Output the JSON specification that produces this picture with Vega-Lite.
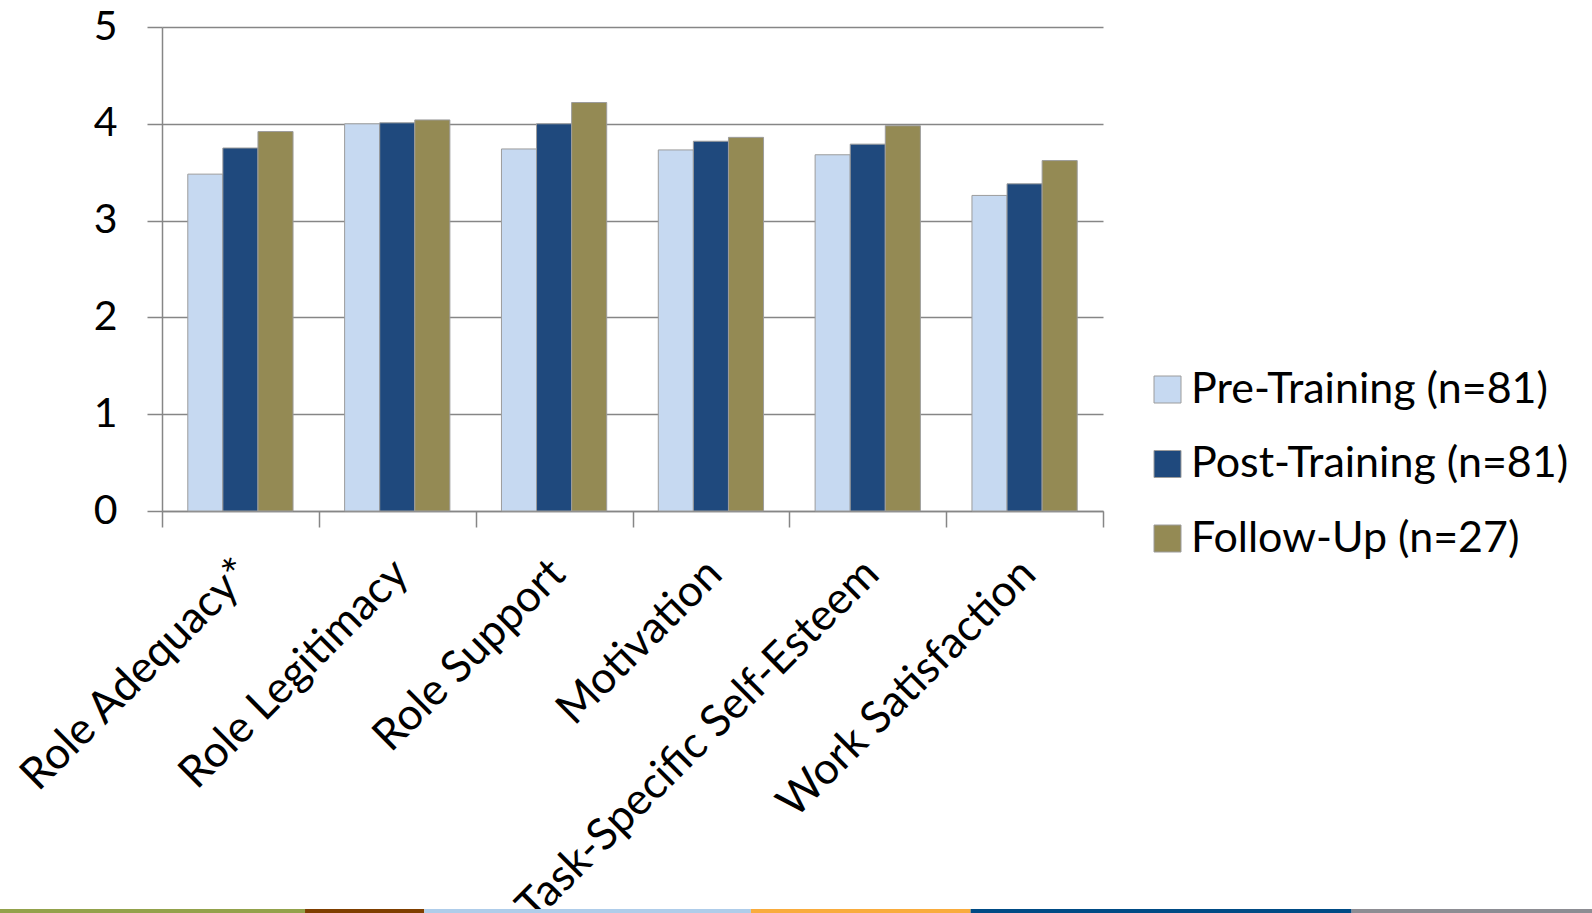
{
  "$schema": "https://vega.github.io/schema/vega-lite/v6.json",
  "width": 941,
  "height": 484,
  "autosize": {"type": "none"},
  "padding": {"left": 162, "top": 27, "right": 489, "bottom": 402},
  "background": "white",
  "config": {"view": {"stroke": null}, "font": "Lato"},
  "layer": [
    {
      "data": {
        "values": [
          {"scale": "Role Adequacy*", "phase": "Pre-Training (n=81)", "mean": 3.48},
          {"scale": "Role Adequacy*", "phase": "Post-Training (n=81)", "mean": 3.75},
          {"scale": "Role Adequacy*", "phase": "Follow-Up (n=27)", "mean": 3.92},
          {"scale": "Role Legitimacy", "phase": "Pre-Training (n=81)", "mean": 4.0},
          {"scale": "Role Legitimacy", "phase": "Post-Training (n=81)", "mean": 4.01},
          {"scale": "Role Legitimacy", "phase": "Follow-Up (n=27)", "mean": 4.04},
          {"scale": "Role Support", "phase": "Pre-Training (n=81)", "mean": 3.74},
          {"scale": "Role Support", "phase": "Post-Training (n=81)", "mean": 4.0},
          {"scale": "Role Support", "phase": "Follow-Up (n=27)", "mean": 4.22},
          {"scale": "Motivation", "phase": "Pre-Training (n=81)", "mean": 3.73},
          {"scale": "Motivation", "phase": "Post-Training (n=81)", "mean": 3.82},
          {"scale": "Motivation", "phase": "Follow-Up (n=27)", "mean": 3.86},
          {"scale": "Task-Specific Self-Esteem", "phase": "Pre-Training (n=81)", "mean": 3.68},
          {"scale": "Task-Specific Self-Esteem", "phase": "Post-Training (n=81)", "mean": 3.79},
          {"scale": "Task-Specific Self-Esteem", "phase": "Follow-Up (n=27)", "mean": 3.98},
          {"scale": "Work Satisfaction", "phase": "Pre-Training (n=81)", "mean": 3.26},
          {"scale": "Work Satisfaction", "phase": "Post-Training (n=81)", "mean": 3.38},
          {"scale": "Work Satisfaction", "phase": "Follow-Up (n=27)", "mean": 3.62}
        ]
      },
      "mark": {"type": "bar", "stroke": "#9c9c9c", "strokeWidth": 1},
      "encoding": {
        "x": {
          "field": "scale",
          "type": "nominal",
          "sort": ["Role Adequacy*", "Role Legitimacy", "Role Support", "Motivation", "Task-Specific Self-Esteem", "Work Satisfaction"],
          "scale": {"paddingInner": 0, "paddingOuter": 0},
          "axis": {
            "title": null,
            "labelAngle": -45,
            "labelAlign": "right",
            "labelBaseline": "alphabetic",
            "labelFont": "Lato",
            "labelFontSize": 44,
            "labelColor": "#000000",
            "labelPadding": 49,
            "labelOffset": 13,
            "labelLimit": 0,
            "labelOverlap": false,
            "tickBand": "extent",
            "tickSize": 16,
            "tickColor": "#868686",
            "tickWidth": 1.5,
            "domainColor": "#868686",
            "domainWidth": 1.5,
            "grid": false
          }
        },
        "xOffset": {
          "field": "phase",
          "type": "nominal",
          "sort": ["Pre-Training (n=81)", "Post-Training (n=81)", "Follow-Up (n=27)"],
          "scale": {"paddingInner": 0, "paddingOuter": 0.735}
        },
        "y": {
          "field": "mean",
          "type": "quantitative",
          "scale": {"domain": [0, 5], "nice": false},
          "axis": {
            "title": null,
            "values": [0, 1, 2, 3, 4, 5],
            "grid": true,
            "gridColor": "#868686",
            "gridWidth": 1.5,
            "domainColor": "#868686",
            "domainWidth": 1.5,
            "tickColor": "#868686",
            "tickWidth": 1.5,
            "tickSize": 15,
            "labelFont": "Lato",
            "labelFontSize": 41,
            "labelColor": "#000000",
            "labelPadding": 30
          }
        },
        "color": {
          "field": "phase",
          "type": "nominal",
          "sort": ["Pre-Training (n=81)", "Post-Training (n=81)", "Follow-Up (n=27)"],
          "scale": {
            "domain": ["Pre-Training (n=81)", "Post-Training (n=81)", "Follow-Up (n=27)"],
            "range": ["#C6D9F1", "#1F497D", "#948A54"]
          },
          "legend": {
            "title": null,
            "orient": "none",
            "legendX": 984,
            "legendY": 341,
            "padding": 0,
            "symbolType": "square",
            "symbolSize": 729,
            "symbolStrokeColor": "#9c9c9c",
            "symbolStrokeWidth": 1,
            "labelFont": "Lato",
            "labelFontSize": 43,
            "labelColor": "#000000",
            "labelOffset": 2,
            "labelLimit": 0,
            "rowPadding": 30.5
          }
        }
      }
    },
    {
      "data": {
        "values": [
          {"band": "olive", "share": 19.16, "pos": 1},
          {"band": "brown", "share": 7.49, "pos": 2},
          {"band": "sky", "share": 20.52, "pos": 3},
          {"band": "amber", "share": 13.8, "pos": 4},
          {"band": "navy", "share": 23.93, "pos": 5},
          {"band": "gray", "share": 15.1, "pos": 6}
        ]
      },
      "mark": {"type": "bar", "clip": false},
      "encoding": {
        "x": {
          "field": "share",
          "type": "quantitative",
          "stack": "zero",
          "scale": {"domain": [0, 100], "range": [-162, 1430], "nice": false},
          "axis": null
        },
        "y": {
          "datum": "footer",
          "type": "nominal",
          "scale": {"range": [882, 886], "paddingInner": 0, "paddingOuter": 0},
          "axis": null
        },
        "order": {"field": "pos", "type": "quantitative"},
        "color": {
          "field": "band",
          "type": "nominal",
          "scale": {
            "domain": ["olive", "brown", "sky", "amber", "navy", "gray"],
            "range": ["#93A24B", "#7F3F00", "#AFCDEA", "#F9AC3D", "#004B85", "#8D8D93"]
          },
          "legend": null
        }
      }
    }
  ],
  "resolve": {"scale": {"x": "independent", "y": "independent", "color": "independent"}}
}
